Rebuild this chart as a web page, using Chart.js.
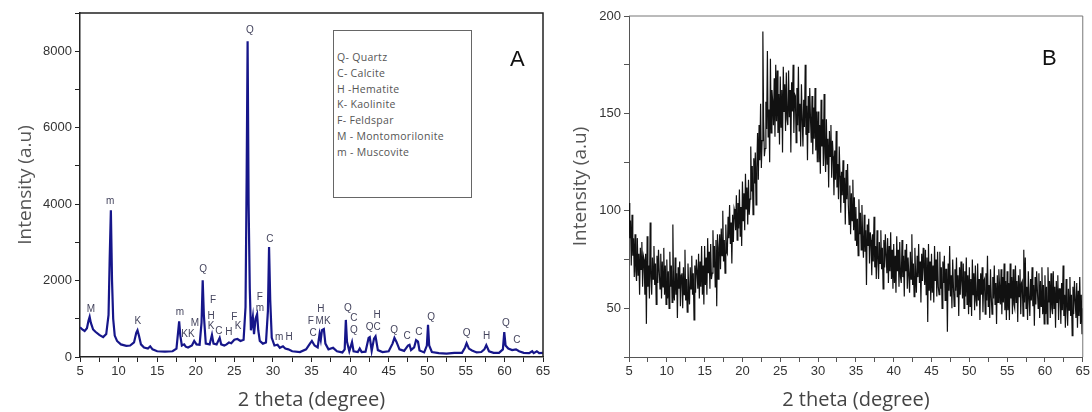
<!DOCTYPE html>
<html>
<head>
<meta charset="utf-8">
<script src="https://cdn.jsdelivr.net/npm/chart.js@4.4.0/dist/chart.umd.min.js"></script>
<style>
  body { margin: 0; background: #fff; width: 1092px; height: 412px; position: relative; overflow: hidden; font-family: "Liberation Sans", Arial, sans-serif; }
  #wa { position: absolute; left: 0; top: 0; width: 555px; height: 412px; }
  #wb { position: absolute; left: 555px; top: 0; width: 537px; height: 412px; }
  #key { position: absolute; left: 333px; top: 30px; width: 139px; height: 168px; border: 1px solid #666; box-sizing: border-box; background: #fff;
         font-family: "Open Sans", sans-serif; font-size: 10.5px; color: #555; padding: 19px 0 0 3px; line-height: 15.8px; letter-spacing: 0.3px; }
  .tag { position: absolute; font-family: "Liberation Sans", Arial, sans-serif; font-size: 22px; color: #111; }
</style>
</head>
<body>
<div id="wa"><canvas id="chartA"></canvas></div>
<div id="wb"><canvas id="chartB"></canvas></div>
<div id="key"></div>
<div class="tag" style="left:510px;top:46px">A</div>
<div class="tag" style="left:1042px;top:45px">B</div>
<script>
// panel A - crystalline pattern
const aAngle = [5.0, 5.3, 5.6, 5.9, 6.1, 6.25, 6.4, 6.7, 7.0, 7.5, 8.0, 8.4, 8.7, 8.85, 9.0, 9.15, 9.3, 9.5, 9.8, 10.3,
  11.0, 11.5, 12.0, 12.3, 12.45, 12.65, 12.9, 13.3, 13.8, 14.1, 14.4, 15.0, 16.0, 17.0, 17.5, 17.85, 18.0, 18.2, 18.5, 18.7,
  19.0, 19.5, 19.8, 20.1, 20.5, 20.75, 20.9, 21.05, 21.3, 21.8, 22.1, 22.3, 22.7, 23.1, 23.3, 23.7, 24.0, 24.3, 24.6, 25.0,
  25.4, 25.8, 26.2, 26.45, 26.6, 26.72, 26.85, 27.0, 27.15, 27.4, 27.55, 27.75, 27.95, 28.1, 28.3, 28.7, 29.1, 29.35, 29.5, 29.65,
  29.85, 30.2, 30.6, 30.9, 31.3, 31.6, 32.0, 32.5, 33.5, 34.3, 34.8, 35.05, 35.4, 35.8, 36.05, 36.2, 36.35, 36.6, 36.8, 37.2,
  37.8, 38.3, 39.0, 39.3, 39.45, 39.6, 39.9, 40.25, 40.45, 41.0, 41.25, 41.5, 42.0, 42.4, 42.55, 42.8, 43.1, 43.3, 43.6, 44.2,
  45.0, 45.5, 45.75, 46.0, 46.4, 47.0, 47.5, 47.7, 47.9, 48.3, 48.55, 48.8, 49.0, 49.6, 49.95, 50.1, 50.25, 50.6, 51.5, 52.5,
  53.5, 54.5, 54.9, 55.1, 55.4, 55.8, 56.4, 57.0, 57.4, 57.65, 58.0, 58.6, 59.3, 59.8, 59.98, 60.15, 60.5, 61.0, 61.5, 61.9,
  62.5, 63.2, 63.6, 63.8, 64.2, 64.5, 65.0];
const aCount = [780, 720, 680, 750, 950, 1050, 900, 720, 660, 580, 520, 600, 1100, 2600, 3840, 2000, 1000, 560, 420, 330,
  290, 300, 380, 640, 700, 550, 330, 250, 220, 280, 200, 150, 140, 150, 220, 930, 560, 300, 330, 270,
  250, 300, 420, 330, 320, 900, 2010, 1100, 350, 330, 580, 350, 330, 500, 330, 300, 330, 380, 360, 450,
  470, 420, 450, 1300, 4800, 8260, 4000, 1800, 700, 1050, 600, 1000, 1120, 700, 420, 350, 380, 1200, 2880, 1500,
  500, 300, 320, 240, 280, 220, 200, 150, 130, 200, 350, 420, 300, 250, 600, 450, 700, 730, 350, 200,
  240, 150, 120, 200, 970, 400, 150, 390, 150, 130, 220, 130, 140, 500, 520, 160, 480, 540, 180, 130,
  150, 350, 500, 400, 200, 160, 300, 320, 180, 250, 440, 400, 170, 120, 300, 840, 300, 130, 100, 90,
  110, 110, 250, 360, 220, 170, 120, 130, 200, 310, 150, 110, 110, 200, 650, 300, 220, 180, 200, 150,
  110, 100, 150, 100, 150, 100, 110];

// phase letters over the peaks (angle, height in counts)
const peakText  = ['M', 'm', 'K', 'm', 'KK', 'M', 'Q', 'F', 'H', 'K', 'C', 'H', 'F', 'K', 'Q', 'F', 'm', 'C', 'm', 'H',
  'F', 'MK', 'H', 'C', 'Q', 'C', 'Q', 'QC', 'H', 'Q', 'C', 'C', 'Q', 'Q', 'H', 'Q', 'C'];
const peakAngle = [6.4, 8.9, 12.5, 17.95, 19.0, 19.9, 20.95, 22.25, 22.0, 22.0, 23.0, 24.3, 25.0, 25.5, 27.0, 28.3, 28.3, 29.6, 30.8, 32.1,
  34.9, 36.5, 36.2, 35.2, 39.7, 40.5, 40.5, 43.0, 43.5, 45.7, 47.4, 48.9, 50.5, 55.1, 57.7, 60.2, 61.6];
const peakLevel = [1255, 4080, 940, 1180, 600, 890, 2300, 1490, 1070, 810, 680, 650, 1050, 810, 8550, 1570, 1280, 3080, 520, 520,
  940, 940, 1255, 630, 1280, 1020, 700, 790, 1100, 700, 550, 650, 1050, 630, 550, 890, 440];

const keyItems = ['Q- Quartz', 'C- Calcite', 'H -Hematite', 'K- Kaolinite', 'F- Feldspar', 'M - Montomorilonite', 'm - Muscovite'];

// panel B - amorphous hump, 5 to 65 deg every 0.1 deg (one row per degree)
const bStart = 5, bStep = 0.1;
const bCount = [
  104, 86, 95, 72, 98, 77, 86, 66, 88, 69,
  64, 86, 67, 78, 57, 81, 70, 84, 61, 77,
  75, 57, 78, 42, 87, 61, 72, 55, 94, 66,
  57, 76, 65, 82, 62, 73, 52, 77, 63, 80,
  69, 60, 78, 55, 74, 61, 81, 57, 72, 52,
  75, 55, 69, 50, 79, 61, 72, 53, 93, 58,
  54, 76, 57, 68, 45, 71, 60, 74, 51, 67,
  68, 50, 71, 57, 80, 54, 65, 48, 73, 59,
  52, 71, 60, 77, 57, 68, 44, 72, 58, 75,
  69, 60, 78, 55, 74, 61, 82, 57, 72, 52,
  82, 62, 76, 57, 86, 68, 79, 60, 83, 65,
  68, 90, 71, 82, 61, 85, 51, 88, 65, 81,
  88, 70, 91, 77, 100, 74, 85, 68, 93, 79,
  78, 97, 86, 103, 83, 94, 73, 98, 84, 101,
  99, 90, 108, 85, 104, 91, 111, 87, 102, 82,
  115, 95, 109, 90, 119, 101, 112, 93, 116, 98,
  106, 133, 110, 123, 98, 127, 114, 130, 103, 122,
  140, 116, 144, 126, 155, 122, 136, 192, 146, 128,
  132, 156, 142, 182, 138, 152, 125, 178, 140, 162,
  156, 144, 168, 138, 175, 146, 172, 140, 160, 134,
  169, 143, 162, 130, 174, 151, 165, 141, 171, 147,
  144, 172, 148, 162, 130, 166, 151, 175, 140, 160,
  159, 135, 163, 144, 174, 141, 155, 133, 165, 147,
  133, 157, 143, 175, 139, 154, 126, 159, 140, 163,
  147, 135, 159, 129, 153, 137, 163, 131, 151, 125,
  151, 125, 144, 119, 157, 133, 147, 123, 160, 129,
  120, 147, 124, 137, 112, 141, 128, 144, 117, 136,
  128, 108, 131, 116, 141, 112, 124, 106, 133, 118,
  99, 120, 108, 126, 104, 117, 93, 121, 106, 124,
  103, 93, 113, 88, 109, 95, 116, 90, 107, 85,
  102, 82, 96, 77, 106, 88, 99, 80, 103, 85,
  76, 98, 79, 90, 62, 93, 82, 96, 73, 89,
  85, 67, 88, 74, 97, 71, 82, 65, 90, 76,
  65, 84, 73, 90, 70, 81, 60, 85, 71, 88,
  77, 68, 86, 63, 82, 69, 89, 65, 80, 60,
  83, 63, 77, 58, 87, 69, 80, 61, 84, 66,
  63, 85, 66, 77, 56, 80, 69, 83, 60, 76,
  76, 58, 79, 65, 88, 62, 73, 56, 81, 67,
  58, 77, 66, 83, 63, 74, 53, 78, 64, 81,
  71, 62, 80, 57, 76, 43, 83, 59, 74, 54,
  78, 58, 72, 53, 82, 64, 75, 56, 79, 61,
  57, 79, 60, 71, 50, 74, 63, 77, 54, 70,
  70, 38, 73, 59, 82, 56, 67, 50, 75, 61,
  51, 70, 59, 76, 56, 67, 46, 71, 57, 74,
  64, 55, 73, 50, 69, 56, 76, 52, 67, 47,
  71, 51, 65, 46, 75, 57, 68, 49, 72, 54,
  51, 73, 54, 65, 44, 68, 57, 71, 48, 64,
  65, 47, 68, 54, 77, 51, 62, 45, 70, 56,
  47, 66, 55, 72, 52, 63, 42, 67, 53, 70,
  61, 52, 70, 47, 66, 53, 73, 49, 64, 44,
  69, 49, 63, 44, 73, 55, 66, 47, 70, 52,
  50, 72, 53, 64, 43, 67, 56, 70, 47, 63,
  64, 46, 80, 53, 76, 50, 61, 44, 69, 55,
  46, 65, 54, 71, 51, 62, 41, 66, 52, 69,
  59, 50, 68, 45, 64, 51, 71, 47, 62, 42,
  67, 47, 61, 42, 71, 53, 64, 45, 68, 50,
  47, 69, 50, 61, 40, 64, 53, 67, 44, 60,
  60, 42, 63, 49, 72, 46, 57, 40, 65, 51,
  41, 60, 49, 66, 46, 57, 36, 61, 47, 64,
  54, 45, 63, 40, 59, 46, 66, 42, 57, 37,
  50];

document.getElementById('key').innerHTML = keyItems.join('<br>');

const frame = {
  id: 'frame',
  afterDraw(chart, args, opts) {
    const { ctx, chartArea: a } = chart;
    ctx.save();
    ctx.strokeStyle = opts.color;
    ctx.lineWidth = opts.width;
    ctx.beginPath();
    ctx.moveTo(a.left, a.top);
    ctx.lineTo(a.right, a.top);
    ctx.lineTo(a.right, a.bottom);
    ctx.stroke();
    ctx.restore();
  }
};

const peakTags = {
  id: 'peakTags',
  afterDatasetsDraw(chart) {
    const { ctx, scales } = chart;
    ctx.save();
    ctx.font = '10px "Liberation Sans", Arial, sans-serif';
    ctx.fillStyle = '#45455e';
    ctx.textAlign = 'center';
    ctx.textBaseline = 'middle';
    peakText.forEach((t, i) => {
      ctx.fillText(t, scales.x.getPixelForValue(peakAngle[i]), scales.y.getPixelForValue(peakLevel[i]));
    });
    ctx.restore();
  }
};

function axes(xMin, xMax, yMin, yMax, yStep, yLabelEvery, axisColor, axisWidth, yWidth) {
  const tickFont = { family: '"Liberation Sans", Arial, sans-serif', size: 13 };
  return {
    x: {
      type: 'linear', min: xMin, max: xMax,
      afterFit: s => { s.height = 55; },
      ticks: { stepSize: 2.5, autoSkip: false, maxRotation: 0, color: '#333', font: tickFont, padding: 2,
               callback: v => (v % 5 === 0 ? v : '') },
      grid: { drawOnChartArea: false, tickLength: 5, color: axisColor },
      border: { color: axisColor, width: axisWidth },
      title: { display: true, text: '2 theta (degree)', color: '#444', padding: { top: 0, bottom: 0 },
               font: { family: '"Open Sans", sans-serif', size: 20 } }
    },
    y: {
      min: yMin, max: yMax,
      afterFit: s => { s.width = yWidth; },
      ticks: { stepSize: yStep, autoSkip: false, color: '#333', font: tickFont, padding: 3,
               callback: v => (v % yLabelEvery === 0 ? v : '') },
      grid: { drawOnChartArea: false, tickLength: 5, color: axisColor },
      border: { color: axisColor, width: axisWidth },
      title: { display: true, text: 'Intensity (a.u)', color: '#555', padding: { top: 14, bottom: 0 },
               font: { family: '"Open Sans", sans-serif', size: 19 } }
    }
  };
}

new Chart(document.getElementById('chartA'), {
  type: 'line',
  data: {
    datasets: [{
      data: aAngle.map((x, i) => ({ x: x, y: aCount[i] })),
      borderColor: '#16168a',
      borderWidth: 2.2,
      pointRadius: 0,
      tension: 0
    }]
  },
  options: {
    responsive: true, maintainAspectRatio: false, animation: false,
    layout: { padding: { left: 0, top: 13, right: 12, bottom: 0 } },
    plugins: { legend: { display: false }, tooltip: { enabled: false }, frame: { color: '#222', width: 1.5 } },
    scales: axes(5, 65, 0, 9000, 1000, 2000, '#222', 1.5, 80)
  },
  plugins: [frame, peakTags]
});

new Chart(document.getElementById('chartB'), {
  type: 'line',
  data: {
    datasets: [{
      data: bCount.map((v, i) => ({ x: bStart + i * bStep, y: v })),
      borderColor: '#111',
      borderWidth: 1.2,
      pointRadius: 0,
      tension: 0
    }]
  },
  options: {
    responsive: true, maintainAspectRatio: false, animation: false,
    layout: { padding: { left: 0, top: 16, right: 9, bottom: 0 } },
    plugins: { legend: { display: false }, tooltip: { enabled: false }, frame: { color: '#777', width: 1 } },
    scales: axes(5, 65, 25, 200, 25, 50, '#555', 1, 74)
  },
  plugins: [frame]
});
</script>
</body>
</html>
